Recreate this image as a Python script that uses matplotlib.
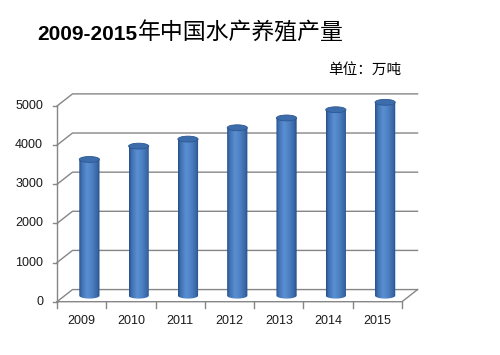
import numpy as np
import matplotlib.pyplot as plt
from matplotlib.patches import Ellipse, PathPatch
from matplotlib.path import Path
from matplotlib.colors import LinearSegmentedColormap

years = ['2009', '2010', '2011', '2012', '2013', '2014', '2015']
output = [3480, 3820, 4000, 4290, 4540, 4750, 4940]
yticks = [0, 1000, 2000, 3000, 4000, 5000]

title_num = '2009-2015'
title_cn = '年中国水产养殖产量'
unit = '单位：万吨'

grid_c = '#868686'
dx, dy = 0.315, 310      # depth offset of the back wall (data units)
bar_w = 0.41
ell_h = 150               # height of the cylinder end ellipses

fig = plt.figure(figsize=(5, 3.55), dpi=100)
ax = fig.add_axes([0, 0, 1, 1])
ax.axis('off')

# walls and gridlines
n = len(years)
for v in yticks:
    ax.plot([0, dx, n + dx], [v, v + dy, v + dy], color=grid_c, lw=1.0, zorder=1)
    ax.plot([-0.09, 0], [v, v], color=grid_c, lw=1.0, zorder=1)
    ax.text(-0.28, v, str(v), ha='right', va='center', fontsize=9,
            family='Liberation Sans', color='#1a1a1a')
ax.plot([0, 0], [0, yticks[-1]], color=grid_c, lw=1.0, zorder=1)
ax.plot([0, n, n + dx], [0, 0, dy], color=grid_c, lw=1.0, zorder=1)
for i in range(n + 1):
    ax.plot([i, i], [0, -150], color=grid_c, lw=1.0, zorder=1)
for i, y in enumerate(years):
    ax.text(i + 0.5, -500, y, ha='center', va='center', fontsize=9,
            family='Liberation Sans', color='#1a1a1a')

# cylinders
cmap = LinearSegmentedColormap.from_list('cyl', [
    (0.0, '#27508a'), (0.12, '#3f70b2'), (0.38, '#5a8fd2'),
    (0.6, '#4f83c6'), (0.88, '#3866a6'), (1.0, '#264c85')])
grad = np.linspace(0, 1, 64).reshape(1, -1)
t = np.linspace(np.pi, 2 * np.pi, 40)
for i, v in enumerate(output):
    cx = i + 0.5 + dx / 2
    base = dy / 2
    top = base + v
    x0, x1 = cx - bar_w / 2, cx + bar_w / 2
    arc_x = cx + bar_w / 2 * np.cos(t)
    arc_y = base + ell_h / 2 * np.sin(t)
    verts = [(x0, top)] + list(zip(arc_x, arc_y)) + [(x1, top), (x0, top)]
    body = Path(verts)
    patch = PathPatch(body, facecolor='none', edgecolor='none')
    ax.add_patch(patch)
    im = ax.imshow(grad, cmap=cmap, extent=[x0, x1, base - ell_h, top],
                   aspect='auto', zorder=2, interpolation='bilinear')
    im.set_clip_path(patch)
    ax.add_patch(Ellipse((cx, top), bar_w, ell_h, facecolor='#3d6cab',
                         edgecolor='#2c5791', lw=0.6, zorder=3))

ax.set_xlim(-1.156, 8.988)
ax.set_ylim(-1362, 7709)

fig.text(37 / 500, 1 - 39.5 / 355, title_num, fontsize=15, fontweight='bold',
         family='Liberation Sans', ha='left', va='baseline')
fig.text(138 / 500, 1 - 39.5 / 355, title_cn, fontsize=16.5,
         family=['Noto Sans CJK SC', 'DejaVu Sans'], ha='left', va='baseline')
fig.text(328 / 500, 1 - 74 / 355, unit, fontsize=10.5,
         family=['Noto Sans CJK SC', 'DejaVu Sans'], ha='left', va='baseline')

fig.savefig('out.png', dpi=100)
